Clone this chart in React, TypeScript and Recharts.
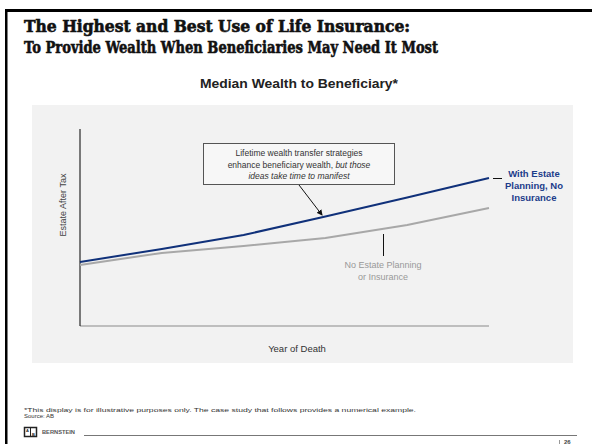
import React from "react";
import { Line, LineChart, ReferenceLine, XAxis, YAxis } from "recharts";

// illustrative values (0-100 scale, no ticks shown)
const years = ["Y1", "Y2", "Y3", "Y4", "Y5", "Y6"];
const withPlanning = [32.5, 39.1, 46.2, 55.6, 65.2, 75.1];
const noPlanning = [31.0, 37.1, 40.6, 44.7, 51.3, 59.9];

const chartData = years.map((year, i) => ({
  year,
  withPlanning: withPlanning[i],
  noPlanning: noPlanning[i],
}));

const BLUE = "#10317a";
const GREY_LINE = "#a8a8a8";
const SANS = "'Liberation Sans', Arial, sans-serif";
const SLAB = "'DejaVu Serif', serif";

function Background() {
  return (
    <svg width={592} height={444} style={{ position: "absolute", left: 0, top: 0 }}>
      {/* page frame */}
      <rect x={5} y={9} width={587} height={3} fill="#000" />
      <rect x={5} y={9} width={2.5} height={435} fill="#000" />

      {/* title */}
      <g fontFamily={SLAB} fontWeight={900} fontSize={16} fill="#111" stroke="#111" strokeWidth={0.6}>
        <text x={24} y={32} textLength={386} lengthAdjust="spacingAndGlyphs">
          The Highest and Best Use of Life Insurance:
        </text>
        <text x={24} y={53} textLength={414} lengthAdjust="spacingAndGlyphs">
          To Provide Wealth When Beneficiaries May Need It Most
        </text>
      </g>

      {/* chart subtitle */}
      <text x={299} y={88} textAnchor="middle" fontFamily={SANS} fontWeight={700} fontSize={12} textLength={198} lengthAdjust="spacingAndGlyphs" fill="#222">
        Median Wealth to Beneficiary*
      </text>

      {/* grey panel */}
      <rect x={32} y={105} width={541} height={258} fill="#f2f2f2" />

      {/* footer */}
      <text x={24} y={412} fontFamily={SANS} fontSize={6} textLength={392} lengthAdjust="spacingAndGlyphs" fill="#333">
        *This display is for illustrative purposes only. The case study that follows provides a numerical example.
      </text>
      <text x={24} y={418} fontFamily={SANS} fontSize={6} fill="#333">
        Source: AB
      </text>
      <rect x={24.5} y={427.5} width={12} height={9} fill="#fff" stroke="#222" strokeWidth={1.5} />
      <line x1={30.5} y1={428} x2={30.5} y2={436} stroke="#222" strokeWidth={1} />
      <text x={27.5} y={432} textAnchor="middle" fontFamily={SANS} fontWeight={700} fontSize={4} fill="#222">A</text>
      <text x={33.5} y={436} textAnchor="middle" fontFamily={SANS} fontWeight={700} fontSize={4} fill="#222">B</text>
      <text x={42} y={434} fontFamily={SANS} fontWeight={700} fontSize={4.5} fill="#555" textLength={33} lengthAdjust="spacingAndGlyphs">
        BERNSTEIN
      </text>
      <line x1={84} y1={435.5} x2={577} y2={435.5} stroke="#777" strokeWidth={1} />
      <line x1={559.5} y1={440} x2={559.5} y2={444} stroke="#999" strokeWidth={1} />
      <text x={564} y={444} fontFamily={SANS} fontWeight={700} fontSize={6} fill="#444">26</text>
    </svg>
  );
}

function Annotations() {
  return (
    <svg width={592} height={444} style={{ position: "absolute", left: 0, top: 0, pointerEvents: "none" }}>
      <defs>
        <marker id="arrowHead" markerWidth={6} markerHeight={6} refX={5} refY={3} orient="auto">
          <path d="M0,0 L6,3 L0,6 z" fill="#111" />
        </marker>
      </defs>

      {/* axis titles */}
      <text
        x={64}
        y={205}
        transform="rotate(-90 64 205)"
        textAnchor="middle"
        dominantBaseline="middle"
        fontFamily={SANS}
        fontSize={9}
        fill="#444"
      >
        Estate After Tax
      </text>
      <text x={297} y={352} textAnchor="middle" fontFamily={SANS} fontSize={9.5} fill="#333">
        Year of Death
      </text>

      {/* callout box */}
      <rect x={203.5} y={143.5} width={191} height={41} fill="#f7f7f7" stroke="#555" strokeWidth={1} />
      <g fontFamily={SANS} fontSize={8.5} fill="#333" textAnchor="middle">
        <text x={299} y={156}>Lifetime wealth transfer strategies</text>
        <text x={299} y={167.5}>
          enhance beneficiary wealth, <tspan fontStyle="italic">but those</tspan>
        </text>
        <text x={299} y={179} fontStyle="italic">ideas take time to manifest</text>
      </g>
      <line x1={299} y1={185} x2={322} y2={215} stroke="#111" strokeWidth={1} markerEnd="url(#arrowHead)" />

      {/* series labels */}
      <line x1={493} y1={178.5} x2={502} y2={178.5} stroke="#111" strokeWidth={1} />
      <g fontFamily={SANS} fontSize={9.5} fontWeight={700} fill="#1b3c8a" textAnchor="middle">
        <text x={534} y={177}>With Estate</text>
        <text x={534} y={189}>Planning, No</text>
        <text x={534} y={201}>Insurance</text>
      </g>

      <line x1={383.5} y1={234} x2={383.5} y2={256} stroke="#111" strokeWidth={1} />
      <g fontFamily={SANS} fontSize={9} fill="#999" textAnchor="middle">
        <text x={383} y={268}>No Estate Planning</text>
        <text x={383} y={279.5}>or Insurance</text>
      </g>
    </svg>
  );
}

export default function App() {
  return (
    <div
      style={{
        position: "absolute",
        left: 0,
        top: 0,
        width: 592,
        height: 444,
        background: "#fff",
        overflow: "hidden",
      }}
    >
      <Background />
      <div style={{ position: "absolute", left: 32, top: 105 }}>
        <LineChart
          width={541}
          height={258}
          data={chartData}
          margin={{ top: 24, right: 84, bottom: 37, left: 48 }}
        >
          <XAxis dataKey="year" hide />
          <YAxis domain={[0, 100]} hide />
          {/* axis lines: black value axis, grey category axis */}
          <ReferenceLine y={0} stroke="#8a8a8a" strokeWidth={1} ifOverflow="visible" />
          <ReferenceLine x={years[0]} stroke="#000" strokeWidth={1} ifOverflow="visible" />
          <Line
            dataKey="noPlanning"
            stroke={GREY_LINE}
            strokeWidth={2}
            dot={false}
            isAnimationActive={false}
          />
          <Line
            dataKey="withPlanning"
            stroke={BLUE}
            strokeWidth={2}
            dot={false}
            isAnimationActive={false}
          />
        </LineChart>
      </div>
      <Annotations />
    </div>
  );
}
